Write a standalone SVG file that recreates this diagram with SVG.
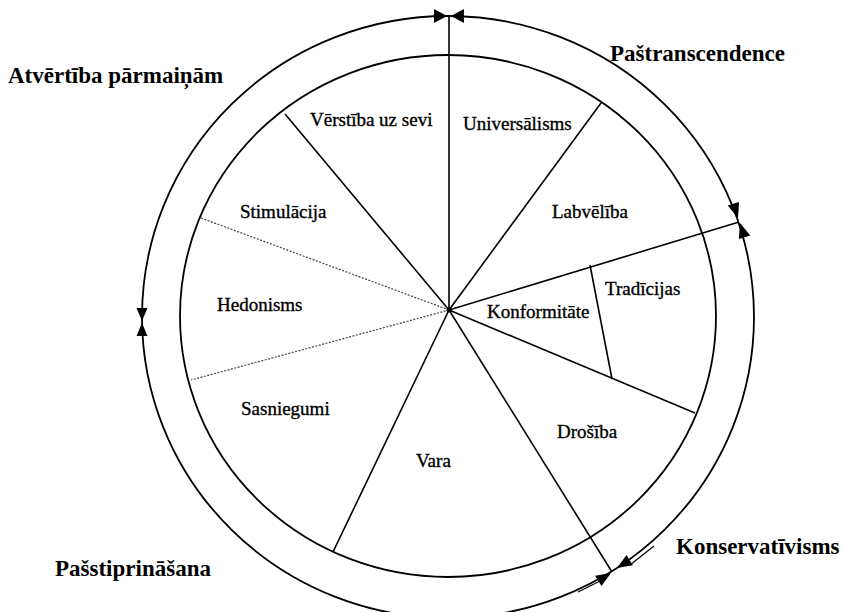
<svg xmlns="http://www.w3.org/2000/svg" width="845" height="612" viewBox="0 0 845 612">
<style>
.ring{fill:none;stroke:#000;stroke-width:1.8}
.sp{stroke:#000;stroke-width:1.6;fill:none}
.thin{stroke:#000;stroke-width:1.2;fill:none}
.dot{stroke:#444;stroke-width:1.2;stroke-dasharray:2 1.5;fill:none}
.ah{fill:#000;stroke:none}
.in{font-family:"Liberation Serif","Times New Roman",serif;font-size:19px;fill:#000;stroke:#000;stroke-width:0.35}
.out{font-family:"Liberation Serif","Times New Roman",serif;font-size:23px;font-weight:bold;fill:#000}
</style>
<rect width="845" height="612" fill="#fff"/>
<g id="outer-ring">
<ellipse class="ring" cx="448" cy="317" rx="306" ry="301"/>
<line class="thin" x1="654" y1="546" x2="630" y2="565"/>
<line class="thin" x1="578" y1="592" x2="604" y2="579"/>
</g>
<g id="inner-ring">
<ellipse class="ring" cx="448" cy="316" rx="268" ry="261"/>
</g>
<g id="connectors">
<line class="sp" x1="449" y1="16" x2="449" y2="310"/>
<line class="sp" x1="449" y1="310" x2="285" y2="114"/>
<line class="dot" x1="449" y1="310" x2="201" y2="218"/>
<line class="dot" x1="449" y1="310" x2="191" y2="380"/>
<line class="sp" x1="449" y1="310" x2="333" y2="552"/>
<line class="sp" x1="449" y1="310" x2="612" y2="572"/>
<line class="sp" x1="449" y1="310" x2="695" y2="413"/>
<line class="sp" x1="449" y1="310" x2="739" y2="222"/>
<line class="sp" x1="449" y1="310" x2="601" y2="103"/>
<line class="sp" x1="590" y1="265" x2="612" y2="379"/>
<circle cx="449" cy="310" r="2.5" fill="#000"/>
<polygon class="ah" points="447,16 434,9 434,23"/>
<polygon class="ah" points="451,16 464,9 464,23"/>
<polygon class="ah" points="738,218 739.1,201.9 727.7,205.5"/>
<polygon class="ah" points="740,223 750.3,235.5 738.9,239.1"/>
<polygon class="ah" points="617,568 632.9,565.2 626.5,555"/>
<polygon class="ah" points="611,573 601.5,586 595.1,575.8"/>
<polygon class="ah" points="142,321 136.5,308 147.5,308"/>
<polygon class="ah" points="142,323 136.5,336 147.5,336"/>
</g>
<g id="atvertiba"><text class="out" x="8" y="83">Atvērtība pārmaiņām</text></g>
<g id="pastranscendence"><text class="out" x="610" y="61">Paštranscendence</text></g>
<g id="konservativisms"><text class="out" x="676" y="554">Konservatīvisms</text></g>
<g id="passtiprinasana"><text class="out" x="55" y="576">Pašstiprināšana</text></g>
<g id="verstiba"><text class="in" x="310" y="126">Vērstība uz sevi</text></g>
<g id="universalisms"><text class="in" x="463" y="130">Universālisms</text></g>
<g id="stimulacija"><text class="in" x="240" y="218">Stimulācija</text></g>
<g id="labveliba"><text class="in" x="552" y="218">Labvēlība</text></g>
<g id="hedonisms"><text class="in" x="217" y="311">Hedonisms</text></g>
<g id="tradicijas"><text class="in" x="605" y="295">Tradīcijas</text></g>
<g id="konformitate"><text class="in" x="487" y="318">Konformitāte</text></g>
<g id="sasniegumi"><text class="in" x="241" y="415">Sasniegumi</text></g>
<g id="drosiba"><text class="in" x="557" y="438">Drošība</text></g>
<g id="vara"><text class="in" x="416" y="467">Vara</text></g>
</svg>
